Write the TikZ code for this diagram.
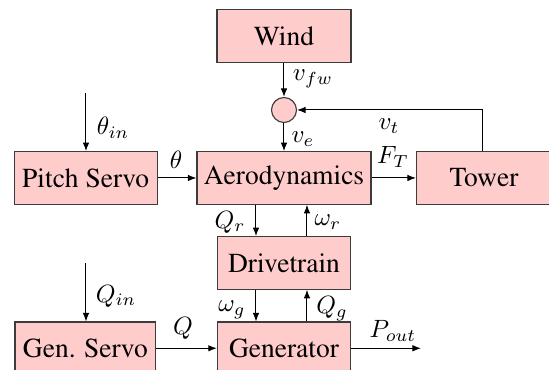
\documentclass[tikz,border=0pt]{standalone}
\usepackage[T1]{fontenc}
\usepackage{times}
\usetikzlibrary{arrows.meta}
\definecolor{boxfill}{RGB}{255,204,204}
\definecolor{boxline}{RGB}{60,60,60}
\tikzset{
  blk/.style={draw=boxline, line width=0.45pt, fill=boxfill, minimum height=21pt, inner sep=0pt, font=\fontsize{11}{13}\selectfont},
  sumnode/.style={circle, draw=boxline, line width=0.45pt, fill=boxfill, minimum size=10pt, inner sep=0pt},
  sig/.style={-{Latex[length=3.4pt,width=2.6pt]}, line width=0.4pt},
  lbl/.style={inner sep=0pt, font=\fontsize{10.3}{12}\selectfont}
}
\begin{document}
\begin{tikzpicture}[x=0.4pt, y=-0.4pt]
\clip (0,0) rectangle (549,370);
% blocks
\node[blk, minimum width=53.6pt] (wind) at (284,36) {Wind};
\node[sumnode] (sum) at (284,110) {};
\node[blk, minimum width=57.2pt] (pitch) at (85.7,178) {Pitch Servo};
\node[blk, minimum width=69.6pt] (aero) at (284,178) {Aerodynamics};
\node[blk, minimum width=54pt] (tower) at (484,178) {Tower};
\node[blk, minimum width=53.3pt] (drive) at (284,263) {Drivetrain};
\node[blk, minimum width=56.3pt] (gservo) at (85.4,348.3) {Gen. Servo};
\node[blk, minimum width=53.3pt] (gen) at (284,348.3) {Generator};
% helper coordinates
\coordinate (thin) at (86,93);
\coordinate (qin) at (86,263);
\coordinate (colL) at (256,0);
\coordinate (colR) at (307,0);
\coordinate (fbk) at (483,110);
\coordinate (pout) at (421,348.3);
% connectors
\draw[sig] (wind) -- (sum);
\draw[sig] (sum) -- (aero);
\draw[sig] (thin) -- (thin |- pitch.north);
\draw[sig] (pitch) -- (aero);
\draw[sig] (aero) -- (tower);
\draw[sig] (tower.north -| fbk) -- (fbk) -- (sum);
\draw[sig] (aero.south -| colL) -- (drive.north -| colL);
\draw[sig] (drive.north -| colR) -- (aero.south -| colR);
\draw[sig] (drive.south -| colL) -- (gen.north -| colL);
\draw[sig] (gen.north -| colR) -- (drive.south -| colR);
\draw[sig] (qin) -- (qin |- gservo.north);
\draw[sig] (gservo) -- (gen);
\draw[sig] (gen) -- (pout);
% labels
\node[lbl] (lvfw) at (313,79) {$v_{fw}$};
\node[lbl] (lve) at (303,139) {$v_e$};
\node[lbl] (lthin) at (113,128) {$\theta_{in}$};
\node[lbl] (lth) at (176,160) {$\theta$};
\node[lbl] (lft) at (393,157) {$F_T$};
\node[lbl] (lvt) at (389,126) {$v_t$};
\node[lbl] (lqr) at (230,222) {$Q_r$};
\node[lbl] (lwr) at (328,222) {$\omega_r$};
\node[lbl] (lwg) at (232,310) {$\omega_g$};
\node[lbl] (lqg) at (332,309) {$Q_g$};
\node[lbl] (lqin) at (116,296) {$Q_{in}$};
\node[lbl] (lq) at (183,328) {$Q$};
\node[lbl] (lpout) at (393,331) {$P_{out}$};
\end{tikzpicture}
\end{document}
